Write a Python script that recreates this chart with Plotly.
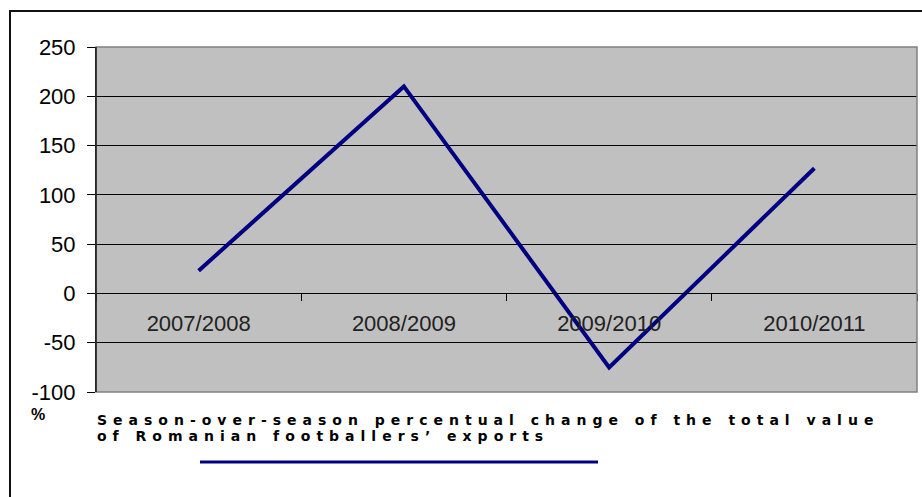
import plotly.graph_objects as go

seasons = ["2007/2008", "2008/2009", "2009/2010", "2010/2011"]
pct_change = [23, 210, -75, 127]
y_ticks = [-100, -50, 0, 50, 100, 150, 200, 250]
caption_1 = "Season-over-season percentual change of the total value"
caption_2 = "of Romanian footballers\u2019 exports"
unit_label = "%"

W, H = 922, 497
L, R, T, B = 96, 917, 47, 392
pw, ph = R - L, B - T


def px(x):
    return (x - L) / pw


def py(y):
    return (B - y) / ph


fig = go.Figure()
fig.add_trace(go.Scatter(
    x=seasons, y=pct_change, mode="lines",
    line=dict(color="#000080", width=4),
    showlegend=False, hoverinfo="skip",
))

ymin, ymax = -100, 250
cap_font = dict(size=14, family="DejaVu Sans", color="black")
fig.update_layout(
    width=W, height=H,
    margin=dict(l=L, r=W - R, t=T, b=H - B, pad=0, autoexpand=False),
    paper_bgcolor="white",
    plot_bgcolor="#C0C0C0",
    font=dict(family="Liberation Sans, Arial", color="black"),
    xaxis=dict(
        type="category", range=[-0.5, 3.5], automargin=False,
        anchor="free", position=(0 - ymin) / (ymax - ymin),
        tickson="boundaries", ticks="outside", ticklen=7, tickcolor="black",
        showline=True, linecolor="black", linewidth=1,
        showgrid=False, zeroline=False,
        tickfont=dict(size=22, color="#222222"),
        ticklabelstandoff=10,
    ),
    yaxis=dict(
        range=[ymin, ymax], tickvals=y_ticks,
        ticktext=[str(v) for v in y_ticks], automargin=False,
        ticks="outside", ticklen=8, tickcolor="black",
        showline=True, linecolor="black", linewidth=1,
        showgrid=True, gridcolor="black", gridwidth=1,
        zeroline=False,
        tickfont=dict(size=22, color="black"),
        ticklabelstandoff=7,
    ),
    shapes=[
        dict(type="rect", xref="paper", yref="paper",
             x0=0, x1=1, y0=0, y1=1,
             line=dict(color="#808080", width=1.5), layer="above"),
        dict(type="line", xref="paper", yref="paper",
             x0=0, x1=0, y0=0, y1=1,
             line=dict(color="black", width=1.2), layer="above"),
        dict(type="rect", xref="paper", yref="paper",
             x0=px(10), x1=px(930), y0=py(11), y1=py(505),
             line=dict(color="#111111", width=2)),
        dict(type="line", xref="paper", yref="paper",
             x0=px(200), x1=px(598), y0=py(462), y1=py(462),
             line=dict(color="#000080", width=3)),
    ],
    annotations=[
        dict(xref="paper", yref="paper", x=px(95), y=py(420),
             xanchor="left", yanchor="middle", showarrow=False,
             text="<b><span style='letter-spacing:6px'>" + caption_1 + "</span></b>",
             font=cap_font),
        dict(xref="paper", yref="paper", x=px(95), y=py(436),
             xanchor="left", yanchor="middle", showarrow=False,
             text="<b><span style='letter-spacing:6px'>" + caption_2 + "</span></b>",
             font=cap_font),
        dict(xref="paper", yref="paper", x=px(29), y=py(414),
             xanchor="left", yanchor="middle", showarrow=False,
             text="<b>" + unit_label + "</b>",
             font=dict(size=16, family="Liberation Sans, Arial", color="black")),
    ],
)

fig.write_html(
    "out.html",
    config={"displayModeBar": False},
    post_script="document.body.style.margin='0';document.body.style.overflow='hidden';",
)
